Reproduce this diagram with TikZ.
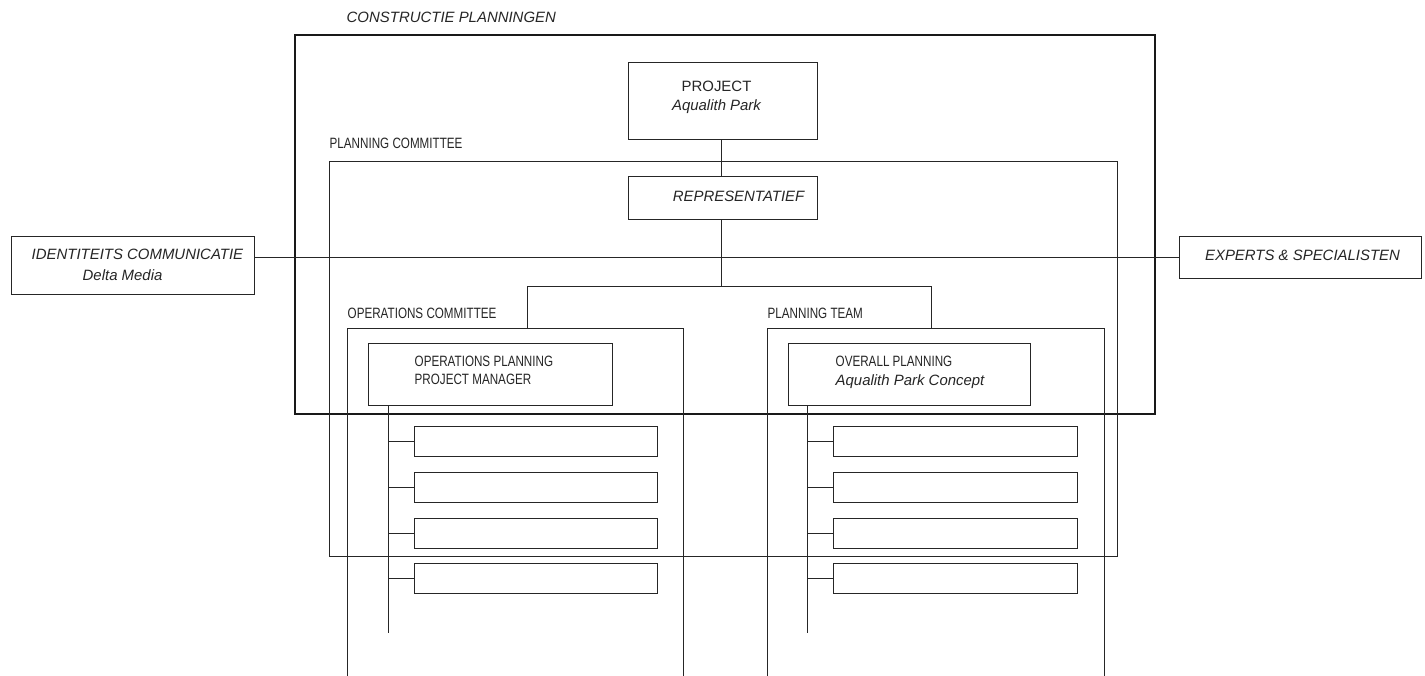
\documentclass[tikz,border=0pt]{standalone}
\usepackage{fontspec}
\setmainfont{Liberation Sans}
\newfontfamily\condfont[FakeStretch=0.78]{Liberation Sans}
\begin{document}
\begin{tikzpicture}[x=1bp,y=-1bp,
  ln/.style={line width=1.4bp, draw=black!85},
  box/.style={ln, rectangle, inner sep=0pt, outer sep=0pt, anchor=north west},
  bigbox/.style={box, line width=2bp, draw=black!90},
  hdr/.style={font=\condfont\fontsize{15}{18}\selectfont, anchor=west, inner sep=0pt, text=black!85},
  itx/.style={font=\itshape\fontsize{15}{18}\selectfont, anchor=west, inner sep=0pt, text=black!85},
  upx/.style={font=\fontsize{15}{18}\selectfont, anchor=west, inner sep=0pt, text=black!85},
  sub/.style={box, minimum height=30bp}]
\useasboundingbox (0,0) rectangle (1425,676);
\fill[white] (0,0) rectangle (1425,676);
\begin{scope}[shift={(0.5,0.5)}]
% titles
\node[itx] (tcon) at (346,17) {CONSTRUCTIE PLANNINGEN};
\node[hdr] (tpc) at (329,143) {PLANNING COMMITTEE};
\node[hdr] (toc) at (347,313) {OPERATIONS COMMITTEE};
\node[hdr] (tpt) at (767,313) {PLANNING TEAM};

% frames
\node[bigbox, minimum width=860bp, minimum height=378bp] (outer) at (294,35) {};
\node[box, minimum width=788bp, minimum height=395bp] (pc) at (329,161) {};
\coordinate (opctop) at (527,328);
\coordinate (pttop) at (931,328);
\draw[ln] (347,677) -- (347,328) -- (683,328) -- (683,677);
\draw[ln] (767,677) -- (767,328) -- (1104,328) -- (1104,677);

% main boxes
\node[box, minimum width=189bp, minimum height=77bp] (proj) at (628,62) {};
\node[upx, anchor=center] (projt) at (716,86) {PROJECT};
\node[itx, anchor=center] (projs) at (716,106) {Aqualith Park};
\node[box, minimum width=189bp, minimum height=43bp] (rep) at (628,176) {};
\node[itx, anchor=center] (rept) at (738,196) {REPRESENTATIEF};

\node[box, minimum width=243bp, minimum height=58bp] (ident) at (11,236) {};
\node[itx] (identt) at (31,254) {IDENTITEITS COMMUNICATIE};
\node[itx] (identd) at (82,275) {Delta Media};
\node[box, minimum width=242bp, minimum height=42bp] (exp) at (1179,236) {};
\node[itx, anchor=center] (expt) at (1302,255) {EXPERTS \& SPECIALISTEN};

\node[box, minimum width=244bp, minimum height=62bp] (opm) at (368,343) {};
\node[hdr] (opmt1) at (414,361) {OPERATIONS PLANNING};
\node[hdr] (opmt2) at (414,379) {PROJECT MANAGER};
\node[box, minimum width=242bp, minimum height=62bp] (ovp) at (788,343) {};
\node[hdr] (ovpt1) at (835,361) {OVERALL PLANNING};
\node[itx] (ovpt2) at (835,381) {Aqualith Park Concept};

% sub boxes
\node[sub, minimum width=243bp] (l1) at (414,426) {};
\node[sub, minimum width=243bp] (l2) at (414,472) {};
\node[sub, minimum width=243bp] (l3) at (414,518) {};
\node[sub, minimum width=243bp] (l4) at (414,563) {};
\node[sub, minimum width=244bp] (r1) at (833,426) {};
\node[sub, minimum width=244bp] (r2) at (833,472) {};
\node[sub, minimum width=244bp] (r3) at (833,518) {};
\node[sub, minimum width=244bp] (r4) at (833,563) {};

% connectors
\coordinate (cx) at (721,0);
\coordinate (br) at (721,286);
\draw[ln] (cx |- proj.south) -- (cx |- rep.north);
\draw[ln] (cx |- rep.south) -- (br);
\draw[ln] (opctop) |- (br) -| (pttop);
\draw[ln] (ident.east |- exp.west) -- (exp.west);

\coordinate (lb) at (388,632);
\coordinate (rb) at (807,632);
\draw[ln] (lb |- opm.south) -- (lb);
\draw[ln] (rb |- ovp.south) -- (rb);
\foreach \n in {1,2,3,4}{
  \draw[ln] (lb |- l\n.west) -- (l\n.west);
  \draw[ln] (rb |- r\n.west) -- (r\n.west);
}
\end{scope}
\end{tikzpicture}
\end{document}
